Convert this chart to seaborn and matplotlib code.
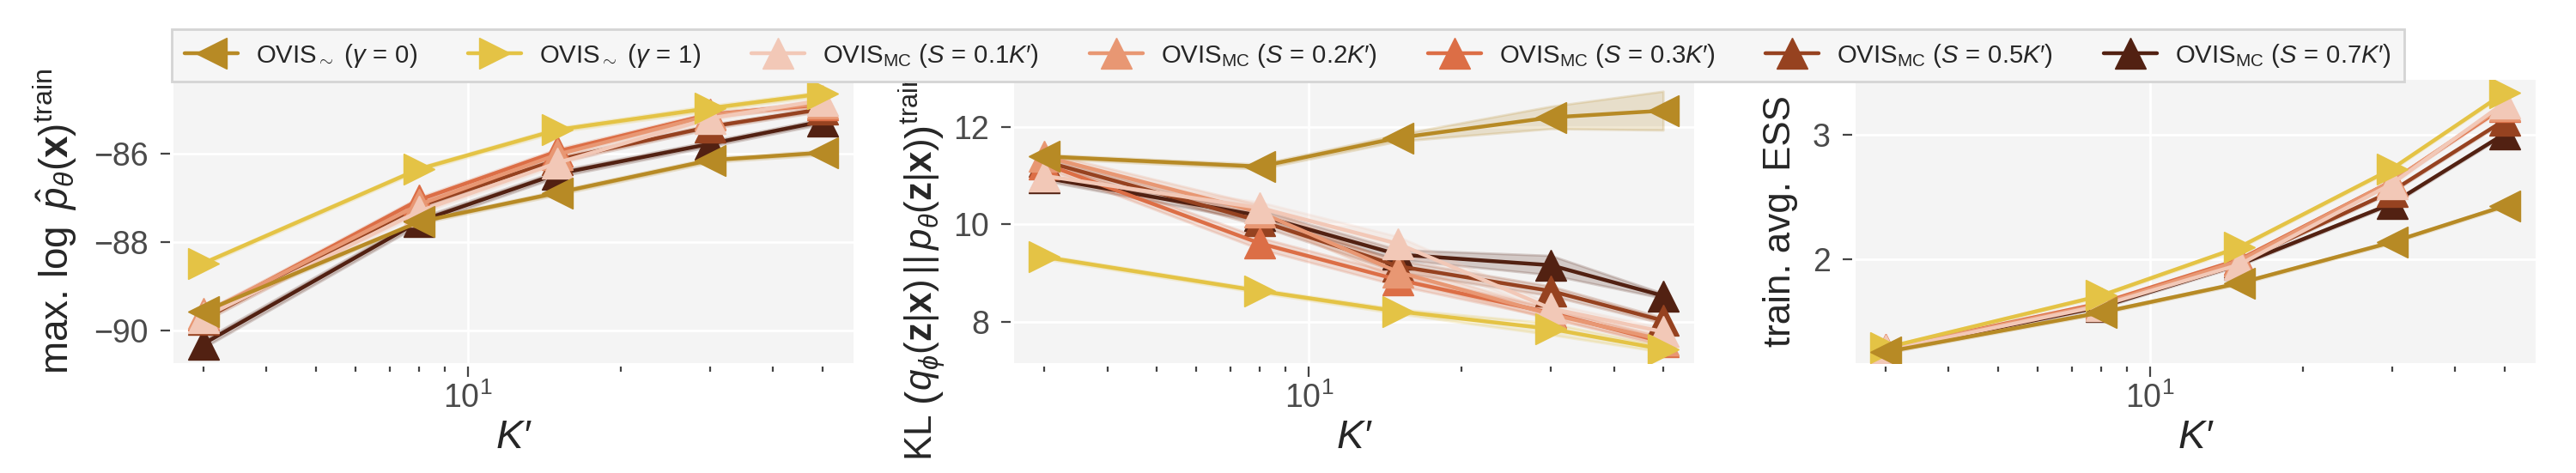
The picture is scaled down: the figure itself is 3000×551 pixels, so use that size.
import numpy as np
import pandas as pd
import matplotlib
matplotlib.use("Agg")
import matplotlib.pyplot as plt
import seaborn as sns
from matplotlib.ticker import MultipleLocator, NullFormatter

# ---------------- data ----------------
K = [3, 8, 15, 30, 50]

series_keys = ["g0", "g1", "mc01", "mc02", "mc03", "mc05", "mc07"]
series_labels = [
    r"OVIS$_{\sim}$ ($\gamma\,=\,0$)",
    r"OVIS$_{\sim}$ ($\gamma\,=\,1$)",
    r"OVIS$_{\mathrm{MC}}$ ($S\,=\,0.1K$′)",
    r"OVIS$_{\mathrm{MC}}$ ($S\,=\,0.2K$′)",
    r"OVIS$_{\mathrm{MC}}$ ($S\,=\,0.3K$′)",
    r"OVIS$_{\mathrm{MC}}$ ($S\,=\,0.5K$′)",
    r"OVIS$_{\mathrm{MC}}$ ($S\,=\,0.7K$′)",
]
series_colors = ["#b78a25", "#e4c345", "#f2c8b7", "#e89773", "#dc6e46", "#964220", "#522112"]
series_markers = ["<", ">", "^", "^", "^", "^", "^"]

# panel 1: max. log p(x) train
logp_g0 = [-89.58, -87.54, -86.88, -86.14, -85.97]
logp_g1 = [-88.48, -86.34, -85.45, -84.96, -84.63]
logp_mc01 = [-89.71, -87.30, -86.20, -85.19, -84.78]
logp_mc02 = [-89.62, -87.15, -86.01, -85.12, -84.85]
logp_mc03 = [-89.66, -87.04, -85.94, -85.10, -84.88]
logp_mc05 = [-89.75, -87.18, -86.13, -85.38, -84.98]
logp_mc07 = [-90.31, -87.53, -86.45, -85.77, -85.26]
logp_band_g0 = [0.04, 0.04, 0.05, 0.05, 0.05]
logp_band_g1 = [0.04, 0.04, 0.05, 0.06, 0.05]
logp_band_mc01 = [0.06, 0.06, 0.06, 0.05, 0.05]
logp_band_mc02 = [0.06, 0.06, 0.06, 0.05, 0.05]
logp_band_mc03 = [0.06, 0.06, 0.06, 0.05, 0.05]
logp_band_mc05 = [0.06, 0.06, 0.06, 0.05, 0.05]
logp_band_mc07 = [0.09, 0.08, 0.07, 0.06, 0.06]

# panel 2: KL train
kl_g0 = [11.40, 11.19, 11.78, 12.20, 12.34]
kl_g1 = [9.33, 8.63, 8.21, 7.85, 7.43]
kl_mc01 = [11.00, 10.34, 9.60, 8.27, 7.79]
kl_mc02 = [11.40, 10.25, 9.02, 8.15, 7.62]
kl_mc03 = [11.25, 9.61, 8.86, 8.18, 7.58]
kl_mc05 = [11.30, 10.07, 9.14, 8.63, 8.02]
kl_mc07 = [10.96, 10.18, 9.38, 9.16, 8.53]
kl_band_g0 = [0.04, 0.05, 0.07, 0.23, 0.40]
kl_band_g1 = [0.04, 0.04, 0.05, 0.12, 0.06]
kl_band_mc01 = [0.08, 0.12, 0.15, 0.10, 0.08]
kl_band_mc02 = [0.08, 0.15, 0.15, 0.10, 0.08]
kl_band_mc03 = [0.08, 0.12, 0.12, 0.10, 0.08]
kl_band_mc05 = [0.08, 0.10, 0.12, 0.10, 0.06]
kl_band_mc07 = [0.06, 0.12, 0.10, 0.20, 0.05]

# panel 3: train avg. ESS
ess_g0 = [1.256, 1.574, 1.81, 2.14, 2.43]
ess_g1 = [1.29, 1.71, 2.10, 2.73, 3.34]
ess_mc01 = [1.27, 1.63, 1.96, 2.61, 3.26]
ess_mc02 = [1.28, 1.64, 1.99, 2.63, 3.24]
ess_mc03 = [1.28, 1.65, 2.00, 2.63, 3.23]
ess_mc05 = [1.27, 1.63, 1.98, 2.55, 3.12]
ess_mc07 = [1.27, 1.62, 1.96, 2.45, 3.01]
ess_band = [0.01, 0.01, 0.01, 0.01, 0.01]

panels = [
    dict(vals=[logp_g0, logp_g1, logp_mc01, logp_mc02, logp_mc03, logp_mc05, logp_mc07],
         bands=[logp_band_g0, logp_band_g1, logp_band_mc01, logp_band_mc02,
                logp_band_mc03, logp_band_mc05, logp_band_mc07],
         ylabel=r"max. $\log\ \hat{p}_{\theta}(\mathbf{x})^{\mathrm{train}}$",
         ylim=(-90.75, -84.31), step=2, ysize=16.5, lcoords=None),
    dict(vals=[kl_g0, kl_g1, kl_mc01, kl_mc02, kl_mc03, kl_mc05, kl_mc07],
         bands=[kl_band_g0, kl_band_g1, kl_band_mc01, kl_band_mc02,
                kl_band_mc03, kl_band_mc05, kl_band_mc07],
         ylabel=r"KL $\left(q_{\phi}(\mathbf{z}|\mathbf{x})\,||\,p_{\theta}(\mathbf{z}|\mathbf{x})\right)^{\mathrm{train}}$",
         ylim=(7.14, 12.98), step=2, ysize=15.8, lcoords=(-0.097, 0.34)),
    dict(vals=[ess_g0, ess_g1, ess_mc01, ess_mc02, ess_mc03, ess_mc05, ess_mc07],
         bands=[ess_band] * 7,
         ylabel="train. avg. ESS",
         ylim=(1.165, 3.447), step=1, ysize=15.8, lcoords=None),
]

# ---------------- style ----------------
sns.set_theme(style="darkgrid", rc={
    "axes.facecolor": "#f4f4f4",
    "grid.color": "white",
    "grid.linewidth": 1.0,
    "xtick.bottom": True,
    "ytick.left": True,
    "xtick.color": "#444444",
    "ytick.color": "#444444",
    "xtick.labelcolor": "#4a4a4a",
    "ytick.labelcolor": "#4a4a4a",
    "xtick.major.size": 4.3,
    "xtick.minor.size": 2.2,
    "xtick.major.width": 0.8,
    "xtick.minor.width": 0.8,
    "ytick.major.size": 4.0,
    "ytick.major.width": 0.8,
    "xtick.major.pad": 2.0,
    "ytick.major.pad": 5.0,
    "xtick.labelsize": 13.5,
    "ytick.labelsize": 13.5,
    "axes.labelcolor": "#262626",
})
plt.rcParams["font.family"] = ["Liberation Sans", "DejaVu Sans"]
plt.rcParams["mathtext.fontset"] = "custom"
plt.rcParams["mathtext.rm"] = "Liberation Sans"
plt.rcParams["mathtext.it"] = "Liberation Sans:italic"
plt.rcParams["mathtext.bf"] = "Liberation Sans:bold"
plt.rcParams["mathtext.sf"] = "Liberation Sans"
plt.rcParams["axes.unicode_minus"] = True

fig = plt.figure(figsize=(15, 2.755), dpi=200)
lefts = [0.0673, 0.3937, 0.7203]
axes = [fig.add_axes([l, 0.2318, 0.2640, 0.6000]) for l in lefts]

draw_order = [6, 5, 4, 3, 2, 1, 0]

for ax, p in zip(axes, panels):
    for i in draw_order:
        rows = []
        for k, v, h in zip(K, p["vals"][i], p["bands"][i]):
            rows += [(k, v - h), (k, v), (k, v + h)]
        df = pd.DataFrame(rows, columns=["K", "v"])
        c = series_colors[i]
        sns.lineplot(data=df, x="K", y="v", ax=ax, color=c,
                     marker=series_markers[i], markersize=13,
                     markeredgecolor=c, markeredgewidth=0.5,
                     linewidth=1.6, errorbar=("pi", 100),
                     err_kws={"alpha": 0.2}, label=series_labels[i],
                     legend=False)
    ax.set_xscale("log")
    ax.set_xlim(2.62, 57.6)
    ax.set_ylim(*p["ylim"])
    ax.yaxis.set_major_locator(MultipleLocator(p["step"]))
    ax.xaxis.set_minor_formatter(NullFormatter())
    for s in ax.spines.values():
        s.set_visible(False)
    ax.spines["bottom"].set_position(("outward", 1.5))
    ax.spines["left"].set_position(("outward", 1.5))
    ax.set_xlabel("K′", fontsize=17, fontstyle="italic", labelpad=2)
    ax.set_ylabel(p["ylabel"], fontsize=p["ysize"], labelpad=6)
    if p["lcoords"] is not None:
        ax.yaxis.set_label_coords(*p["lcoords"])

handles, labs = axes[0].get_legend_handles_labels()
order = [labs.index(l) for l in series_labels]
leg = fig.legend([handles[j] for j in order], [labs[j] for j in order],
                 loc="upper center", bbox_to_anchor=(0.5, 0.965), ncol=7,
                 frameon=True, fancybox=False, facecolor="#f6f6f6",
                 edgecolor="#d4d4d4", framealpha=1, fontsize=10.6,
                 handlelength=2.1, handletextpad=0.72, columnspacing=2.0,
                 borderpad=0.5)
leg.get_frame().set_linewidth(1.0)

fig.savefig("out.png", dpi=200)
